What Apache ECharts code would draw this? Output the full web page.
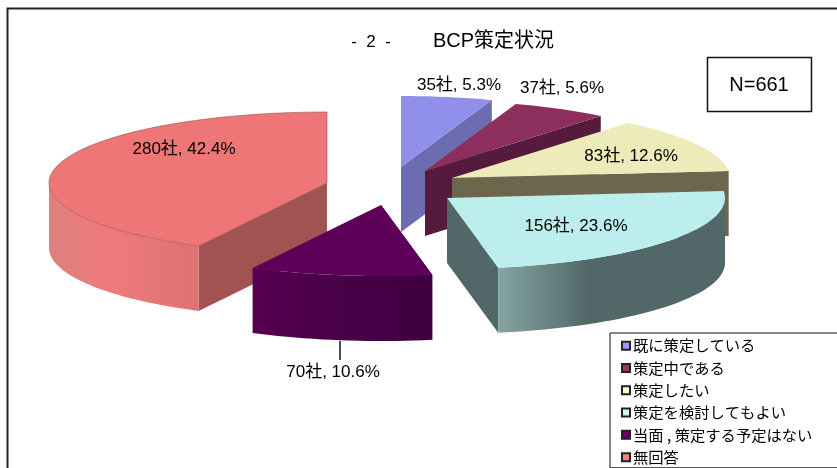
<!DOCTYPE html>
<html>
<head>
<meta charset="utf-8">
<style>
  html, body { margin: 0; padding: 0; background: #fff; }
  #bcp_pie_chart { width: 837px; height: 468px; }
</style>
<script src="https://cdn.jsdelivr.net/npm/echarts@6/dist/echarts.min.js"></script>
</head>
<body>
<div id="bcp_pie_chart"></div>
<script>
// 回答区分と社数
const categories = ['既に策定している', '策定中である', '策定したい', '策定を検討してもよい', '当面 , 策定する予定はない', '無回答'];
const companies = [35, 37, 83, 156, 70, 280];
const percents = ['5.3%', '5.6%', '12.6%', '23.6%', '10.6%', '42.4%'];

// 凡例の色、天面、側面の色
const legendColors = ['#9999ff', '#993366', '#ffffcc', '#ccffff', '#660066', '#ff8080'];
const topColors = ['#9090ea', '#8c2f5c', '#ecebb9', '#bbeeec', '#5e0059', '#ee7676'];
const radialColors = ['#6b6db0', '#561a3c', '#6b664c', '#526768', '#4a0047', '#a35252'];
const wallColors = [null, null, null, ['#84a4a2', '#526768', '#526768'], ['#560050', '#4a0048', '#3e0040'], ['#dd8080', '#ef7a7a', '#df7272']];

// 3D風の形状（切り離した各扇の中心）
const centers = [[401, 167], [425, 171], [452, 178], [447, 198], [381, 205], [327, 183]];
const labelPos = [[459, 85], [562, 88], [631, 156], [576, 226], [333, 372], [184, 149]];
const rx = 278;
const ry = 71;
const depth = 65;
const total = companies.reduce((a, b) => a + b, 0);

function rim(c, deg, drop) {
  const t = deg * Math.PI / 180;
  return [c[0] + rx * Math.sin(t), c[1] - ry * Math.cos(t) + drop];
}

function arcPoints(c, from, to, drop) {
  const pts = [];
  const n = Math.max(2, Math.ceil((to - from) / 2));
  for (let i = 0; i <= n; i++) {
    pts.push(rim(c, from + (to - from) * i / n, drop));
  }
  return pts;
}

function renderSlice(idx) {
  return function () {
    const start = companies.slice(0, idx).reduce((a, b) => a + b, 0) / total * 360;
    const end = start + companies[idx] / total * 360;
    const c = centers[idx];
    const children = [];
    const lo = [c[0], c[1] + depth];

    // 切り口（手前を向くものだけ見える）
    if (end < 180) {
      children.push({
        type: 'polygon',
        shape: { points: [c, rim(c, end, 0), rim(c, end, depth), lo] },
        style: { fill: radialColors[idx] }
      });
    }
    if (start > 90) {
      children.push({
        type: 'polygon',
        shape: { points: [c, rim(c, start, 0), rim(c, start, depth), lo] },
        style: { fill: radialColors[idx] }
      });
    }

    // 外周の壁（手前側のみ）
    const wallFrom = Math.max(start, 90);
    const wallTo = Math.min(end, 270);
    if (wallTo > wallFrom) {
      const upper = arcPoints(c, wallFrom, wallTo, 0);
      const lower = arcPoints(c, wallFrom, wallTo, depth).reverse();
      const stops = wallColors[idx];
      const xs = upper.map(p => p[0]);
      const x0 = Math.min.apply(null, xs);
      const x1 = Math.max.apply(null, xs);
      children.push({
        type: 'polygon',
        shape: { points: upper.concat(lower) },
        style: {
          fill: new echarts.graphic.LinearGradient(x0, 0, x1, 0, stops.map((color, i) => ({
            offset: i === 0 ? 0 : (i === 1 ? 0.4 : 1),
            color: color
          })), true)
        }
      });
    }

    // 天面
    const top = arcPoints(c, start, end, 0);
    top.unshift(c);
    children.push({
      type: 'polygon',
      shape: { points: top },
      style: { fill: topColors[idx], stroke: idx === 5 ? '#9a4c4c' : 'none', lineWidth: idx === 5 ? 0.6 : 0 }
    });

    // データラベル
    children.push({
      type: 'text',
      z2: 10,
      style: {
        text: companies[idx] + '社, ' + percents[idx],
        x: labelPos[idx][0],
        y: labelPos[idx][1],
        align: 'center',
        verticalAlign: 'middle',
        fill: '#000',
        font: '17px "Liberation Sans", "Noto Sans CJK JP"'
      }
    });
    return { type: 'group', children: children };
  };
}

const pie_chart = echarts.init(document.getElementById('bcp_pie_chart'));

// 描画順: 奥から手前へ
const drawOrder = [5, 0, 1, 2, 3, 4];

const option = {
  backgroundColor: '#fff',
  animation: false,
  title: {
    text: 'BCP策定状況',
    left: 433,
    top: 31,
    padding: 0,
    textStyle: {
      color: '#000',
      fontWeight: 'normal',
      fontSize: 20,
      fontFamily: '"Liberation Sans", "Noto Sans CJK JP"'
    }
  },
  legend: {
    data: categories,
    orient: 'vertical',
    left: 610,
    top: 333,
    padding: [5, 30, 3, 11],
    itemGap: 7,
    itemWidth: 8,
    itemHeight: 8,
    icon: 'rect',
    selectedMode: false,
    backgroundColor: '#fff',
    borderColor: '#111',
    borderWidth: 1,
    textStyle: {
      color: '#000',
      fontSize: 15.3,
      padding: [0, 0, 0, -2],
      fontFamily: '"Noto Sans CJK JP", "Liberation Sans"'
    }
  },
  graphic: [
    { type: 'rect', shape: { x: 7.5, y: 8.5, width: 840, height: 470 }, style: { fill: 'none', stroke: '#222', lineWidth: 2 }, silent: true },
    { type: 'text', style: { text: '-  2  -', x: 371, y: 42, align: 'center', verticalAlign: 'middle', fill: '#000', font: '17px "Liberation Sans"' } },
    { type: 'rect', shape: { x: 707.5, y: 57.5, width: 104, height: 54 }, style: { fill: '#fff', stroke: '#111', lineWidth: 1.5 } },
    { type: 'text', style: { text: 'N=661', x: 759, y: 85, align: 'center', verticalAlign: 'middle', fill: '#000', font: '20px "Liberation Sans"' } },
    { type: 'line', shape: { x1: 340, y1: 341, x2: 340, y2: 360 }, style: { stroke: '#111', lineWidth: 1.5 } }
  ],
  series: drawOrder.map(idx => ({
    type: 'custom',
    name: categories[idx],
    coordinateSystem: 'none',
    itemStyle: { color: legendColors[idx], borderColor: '#222', borderWidth: 1 },
    data: [companies[idx]],
    renderItem: renderSlice(idx)
  }))
};

pie_chart.setOption(option);
</script>
</body>
</html>
